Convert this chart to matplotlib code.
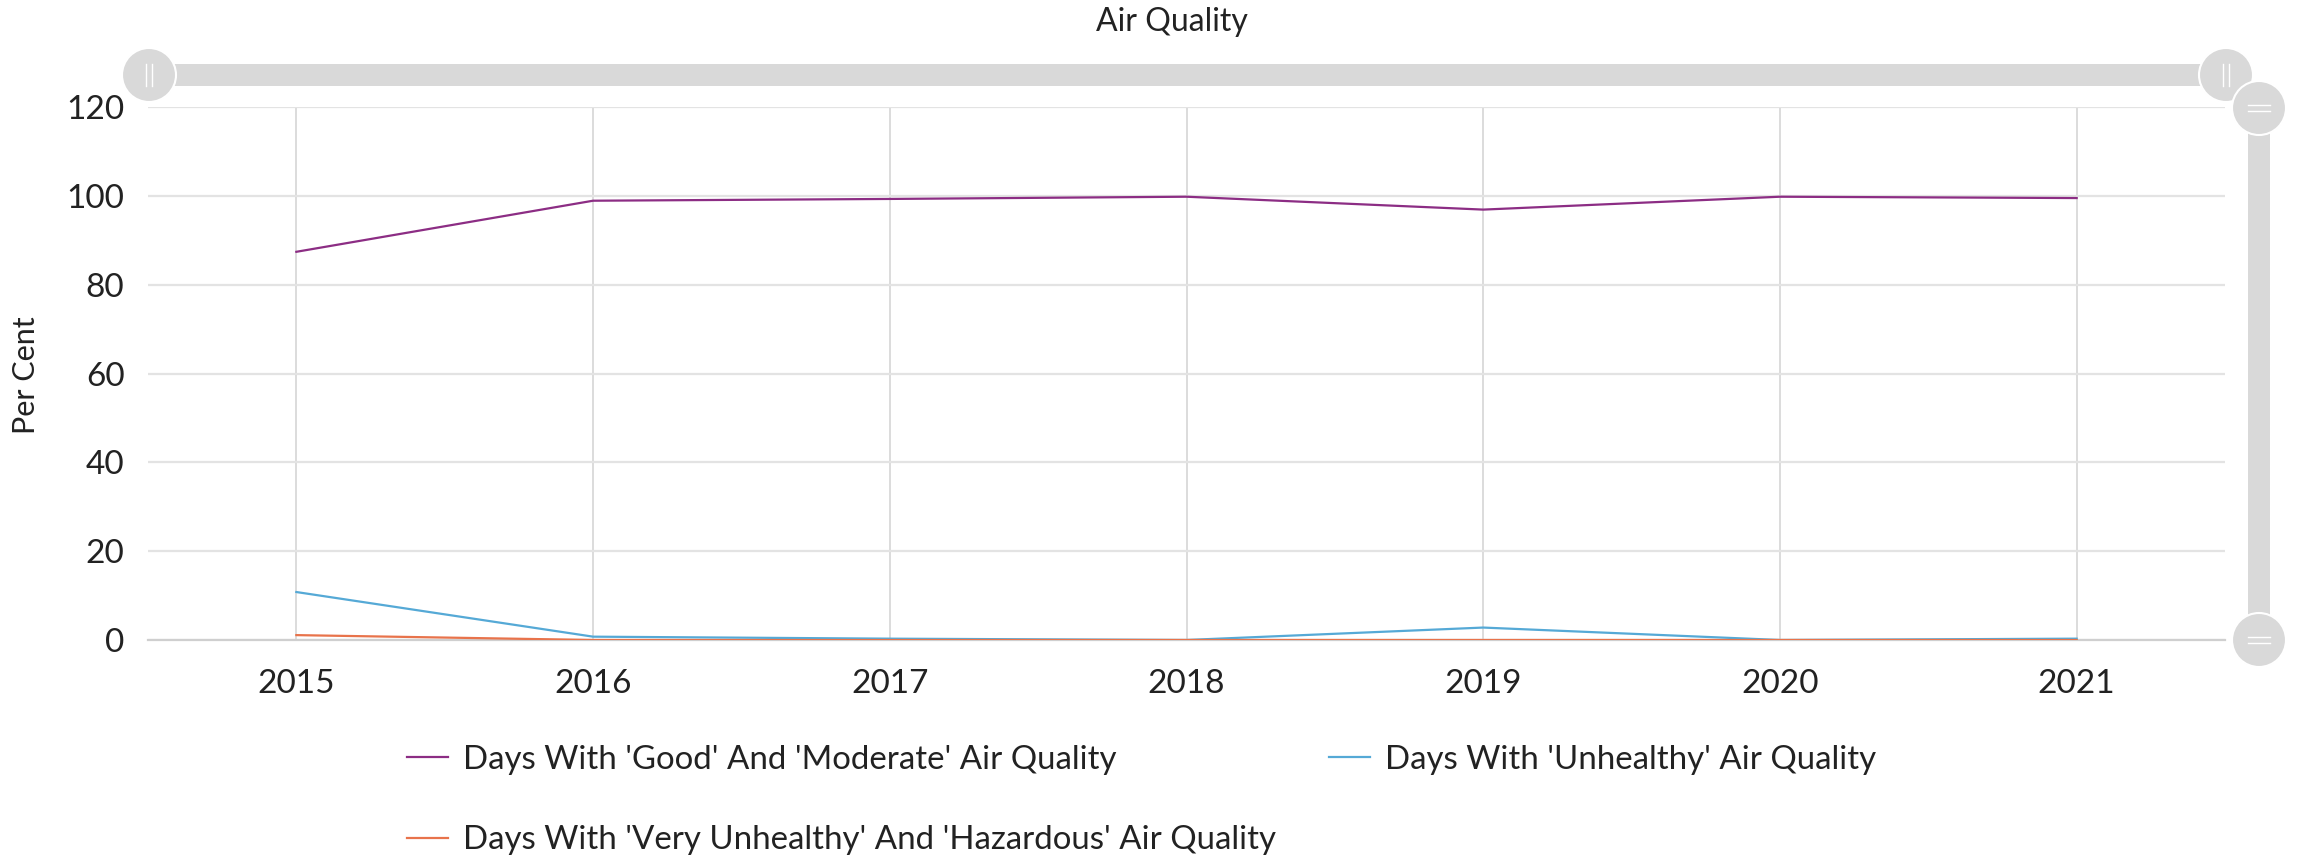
import matplotlib
matplotlib.use("Agg")
import matplotlib.pyplot as plt
from matplotlib.patches import Circle, Rectangle
from matplotlib.lines import Line2D

plt.rcParams["font.family"] = ["Lato", "DejaVu Sans"]

# --- Données ---
years = ["2015", "2016", "2017", "2018", "2019", "2020", "2021"]
good_moderate = [87.4, 98.9, 99.3, 99.8, 96.9, 99.8, 99.5]
unhealthy = [10.8, 0.75, 0.3, 0.0, 2.8, 0.0, 0.3]
very_unhealthy = [1.1, 0.0, 0.0, 0.0, 0.0, 0.0, 0.0]

labels = [
    "Days With 'Good' And 'Moderate' Air Quality",
    "Days With 'Unhealthy' Air Quality",
    "Days With 'Very Unhealthy' And 'Hazardous' Air Quality",
]
colors = ["#8c2d84", "#55a9d6", "#e8734b"]
y_ticks = [0, 20, 40, 60, 80, 100, 120]

W, H = 2305, 856
fig = plt.figure(figsize=(W / 100, H / 100), dpi=100)

# zone de tracé (en pixels)
left, right, top, bottom = 148, 2225, 107, 640
ax = fig.add_axes([left / W, 1 - bottom / H, (right - left) / W, (bottom - top) / H])

x = list(range(len(years)))
series = [good_moderate, unhealthy, very_unhealthy]
lines = []
for vals, lab, col in zip(series, labels, colors):
    ln, = ax.plot(x, vals, color=col, lw=1.6, label=lab, zorder=3, solid_joinstyle="round")
    lines.append(ln)

ax.set_xlim(-0.5, len(years) - 0.5)
ax.set_ylim(0, 120)
ax.set_xticks(x)
ax.set_xticklabels(years)
ax.set_yticks(y_ticks)
ax.tick_params(axis="both", length=0, labelsize=24, colors="#222222")
ax.tick_params(axis="x", pad=21)
ax.tick_params(axis="y", pad=17)

ax.yaxis.grid(True, color="#e3e3e3", lw=1.6)
ax.xaxis.grid(True, color="#d2d2d2", lw=1.1)
ax.set_axisbelow(True)
for side in ["top", "right", "left"]:
    ax.spines[side].set_visible(False)
ax.spines["bottom"].set_color("#cfcfcf")
ax.spines["bottom"].set_linewidth(1.6)

# Titre et label Y
fig.text(1172 / W, 1 - 22 / H, "Air Quality", ha="center", va="center", fontsize=23, color="#222222")
fig.text(26 / W, 1 - 375 / H, "Per Cent", ha="center", va="center", rotation=90, fontsize=22, color="#222222")

# Légende (ordre colonne par colonne)
handles = [lines[0], lines[2], lines[1]]
fig.legend(handles=handles, labels=[h.get_label() for h in handles], ncol=2,
           loc="upper left", bbox_to_anchor=(407 / W, 1 - 745 / H),
           frameon=False, fontsize=23.8, handlelength=1.25, handletextpad=0.45,
           columnspacing=1.6, labelspacing=1.52, borderpad=0, borderaxespad=0,
           labelcolor="#222222")

# --- Barres de défilement (navigateur) ---
ov = fig.add_axes([0, 0, 1, 1], zorder=5)
ov.set_xlim(0, W)
ov.set_ylim(H, 0)
ov.axis("off")
ov.patch.set_alpha(0)

grey = "#d9d9d9"
ov.add_patch(Rectangle((149, 64), 2226 - 149, 22, color=grey, lw=0))
ov.add_patch(Rectangle((2248, 108), 22, 640 - 108, color=grey, lw=0))

for cx, cy, horiz in [(149, 75, True), (2226, 75, True), (2259, 108, False), (2259, 640, False)]:
    ov.add_patch(Circle((cx, cy), 27, facecolor=grey, edgecolor="white", lw=1.5, zorder=6))
    if horiz:
        for dx in (-3, 3):
            ov.add_line(Line2D([cx + dx, cx + dx], [cy - 11, cy + 11], color="white", lw=1.0, zorder=7))
    else:
        for dy in (-3, 3):
            ov.add_line(Line2D([cx - 11, cx + 11], [cy + dy, cy + dy], color="white", lw=1.0, zorder=7))

fig.savefig("out.png", dpi=100)
